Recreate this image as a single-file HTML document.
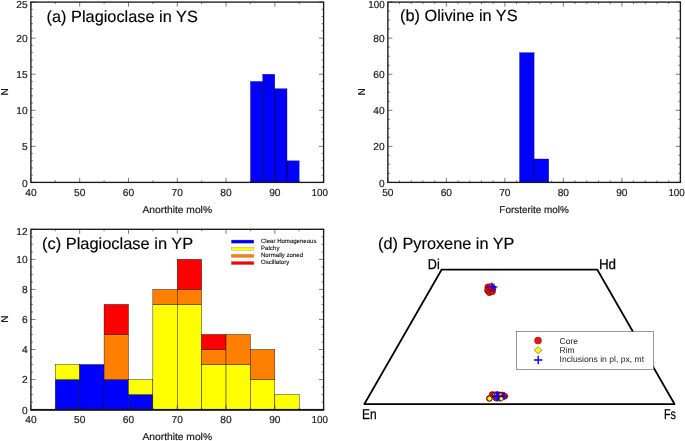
<!DOCTYPE html>
<html lang="en"><head><meta charset="utf-8"><title>Mineral compositions</title>
<style>html,body{margin:0;padding:0;background:#fff}body{width:685px;height:441px;overflow:hidden}svg{display:block}</style></head><body>
<svg width="685" height="441" viewBox="0 0 685 441" font-family="Liberation Sans, sans-serif" text-rendering="geometricPrecision">
<rect width="685" height="441" fill="#fff"/>
<g>
<rect x="250.43" y="81.43" width="12.20" height="100.97" fill="#0000ff" stroke="#000" stroke-width="0.22"/>
<rect x="262.62" y="74.22" width="12.20" height="108.18" fill="#0000ff" stroke="#000" stroke-width="0.22"/>
<rect x="274.82" y="88.64" width="12.20" height="93.76" fill="#0000ff" stroke="#000" stroke-width="0.22"/>
<rect x="287.01" y="160.76" width="12.20" height="21.64" fill="#0000ff" stroke="#000" stroke-width="0.22"/>
<path d="M262.62 182.40V81.43" stroke="#000018" stroke-width="0.55" fill="none"/>
<path d="M274.82 182.40V88.64" stroke="#000018" stroke-width="0.55" fill="none"/>
<path d="M287.01 182.40V160.76" stroke="#000018" stroke-width="0.55" fill="none"/>
<path d="M30.90 182.40v-4.6M30.90 2.10v4.6M55.29 182.40v-2.0M55.29 2.10v2.0M79.68 182.40v-4.6M79.68 2.10v4.6M104.08 182.40v-2.0M104.08 2.10v2.0M128.47 182.40v-4.6M128.47 2.10v4.6M152.86 182.40v-2.0M152.86 2.10v2.0M177.25 182.40v-4.6M177.25 2.10v4.6M201.64 182.40v-2.0M201.64 2.10v2.0M226.03 182.40v-4.6M226.03 2.10v4.6M250.43 182.40v-2.0M250.43 2.10v2.0M274.82 182.40v-4.6M274.82 2.10v4.6M299.21 182.40v-2.0M299.21 2.10v2.0M323.60 182.40v-4.6M323.60 2.10v4.6M30.90 182.40h4.6M323.60 182.40h-4.6M30.90 175.19h2.0M323.60 175.19h-2.0M30.90 167.98h2.0M323.60 167.98h-2.0M30.90 160.76h2.0M323.60 160.76h-2.0M30.90 153.55h2.0M323.60 153.55h-2.0M30.90 146.34h4.6M323.60 146.34h-4.6M30.90 139.13h2.0M323.60 139.13h-2.0M30.90 131.92h2.0M323.60 131.92h-2.0M30.90 124.70h2.0M323.60 124.70h-2.0M30.90 117.49h2.0M323.60 117.49h-2.0M30.90 110.28h4.6M323.60 110.28h-4.6M30.90 103.07h2.0M323.60 103.07h-2.0M30.90 95.86h2.0M323.60 95.86h-2.0M30.90 88.64h2.0M323.60 88.64h-2.0M30.90 81.43h2.0M323.60 81.43h-2.0M30.90 74.22h4.6M323.60 74.22h-4.6M30.90 67.01h2.0M323.60 67.01h-2.0M30.90 59.80h2.0M323.60 59.80h-2.0M30.90 52.58h2.0M323.60 52.58h-2.0M30.90 45.37h2.0M323.60 45.37h-2.0M30.90 38.16h4.6M323.60 38.16h-4.6M30.90 30.95h2.0M323.60 30.95h-2.0M30.90 23.74h2.0M323.60 23.74h-2.0M30.90 16.52h2.0M323.60 16.52h-2.0M30.90 9.31h2.0M323.60 9.31h-2.0M30.90 2.10h4.6M323.60 2.10h-4.6" stroke="#222" stroke-width="0.6" fill="none"/>
<rect x="30.90" y="2.10" width="292.70" height="180.30" fill="none" stroke="#1a1a1a" stroke-width="1.35"/>
<text x="30.90" y="196.00" font-size="10.2" text-anchor="middle" fill="#1a1a1a" stroke="#1a1a1a" stroke-width="0.2">40</text>
<text x="79.68" y="196.00" font-size="10.2" text-anchor="middle" fill="#1a1a1a" stroke="#1a1a1a" stroke-width="0.2">50</text>
<text x="128.47" y="196.00" font-size="10.2" text-anchor="middle" fill="#1a1a1a" stroke="#1a1a1a" stroke-width="0.2">60</text>
<text x="177.25" y="196.00" font-size="10.2" text-anchor="middle" fill="#1a1a1a" stroke="#1a1a1a" stroke-width="0.2">70</text>
<text x="226.03" y="196.00" font-size="10.2" text-anchor="middle" fill="#1a1a1a" stroke="#1a1a1a" stroke-width="0.2">80</text>
<text x="274.82" y="196.00" font-size="10.2" text-anchor="middle" fill="#1a1a1a" stroke="#1a1a1a" stroke-width="0.2">90</text>
<text x="319.80" y="196.00" font-size="10.2" text-anchor="middle" fill="#1a1a1a" textLength="16.4" lengthAdjust="spacingAndGlyphs" stroke="#1a1a1a" stroke-width="0.2">100</text>
<text x="27.70" y="186.70" font-size="10.2" text-anchor="end" fill="#1a1a1a" stroke="#1a1a1a" stroke-width="0.2">0</text>
<text x="27.70" y="150.04" font-size="10.2" text-anchor="end" fill="#1a1a1a" stroke="#1a1a1a" stroke-width="0.2">5</text>
<text x="27.70" y="113.98" font-size="10.2" text-anchor="end" fill="#1a1a1a" stroke="#1a1a1a" stroke-width="0.2">10</text>
<text x="27.70" y="77.92" font-size="10.2" text-anchor="end" fill="#1a1a1a" stroke="#1a1a1a" stroke-width="0.2">15</text>
<text x="27.70" y="41.86" font-size="10.2" text-anchor="end" fill="#1a1a1a" stroke="#1a1a1a" stroke-width="0.2">20</text>
<text x="27.70" y="8.20" font-size="10.2" text-anchor="end" fill="#1a1a1a" stroke="#1a1a1a" stroke-width="0.2">25</text>
<text x="177.25" y="212.80" font-size="9.9" text-anchor="middle" fill="#1a1a1a" textLength="69.5" lengthAdjust="spacingAndGlyphs" stroke="#1a1a1a" stroke-width="0.2">Anorthite mol%</text>
<text transform="translate(7.60 91.95) rotate(-90)" font-size="10" text-anchor="middle" fill="#1a1a1a" stroke="#1a1a1a" stroke-width="0.2">N</text>
<text x="46.60" y="22.40" font-size="16.3" text-anchor="start" fill="#000" textLength="151.2" lengthAdjust="spacingAndGlyphs" stroke="#000" stroke-width="0.15">(a) Plagioclase in YS</text>
</g>
<g>
<rect x="519.50" y="52.58" width="14.63" height="129.82" fill="#0000ff" stroke="#000" stroke-width="0.22"/>
<rect x="534.12" y="158.96" width="14.63" height="23.44" fill="#0000ff" stroke="#000" stroke-width="0.22"/>
<path d="M534.12 182.40V158.96" stroke="#000018" stroke-width="0.55" fill="none"/>
<path d="M387.85 182.40v-4.6M387.85 2.10v4.6M399.55 182.40v-2.0M399.55 2.10v2.0M411.25 182.40v-2.0M411.25 2.10v2.0M422.96 182.40v-2.0M422.96 2.10v2.0M434.66 182.40v-2.0M434.66 2.10v2.0M446.36 182.40v-4.6M446.36 2.10v4.6M458.06 182.40v-2.0M458.06 2.10v2.0M469.76 182.40v-2.0M469.76 2.10v2.0M481.47 182.40v-2.0M481.47 2.10v2.0M493.17 182.40v-2.0M493.17 2.10v2.0M504.87 182.40v-4.6M504.87 2.10v4.6M516.57 182.40v-2.0M516.57 2.10v2.0M528.27 182.40v-2.0M528.27 2.10v2.0M539.98 182.40v-2.0M539.98 2.10v2.0M551.68 182.40v-2.0M551.68 2.10v2.0M563.38 182.40v-4.6M563.38 2.10v4.6M575.08 182.40v-2.0M575.08 2.10v2.0M586.78 182.40v-2.0M586.78 2.10v2.0M598.49 182.40v-2.0M598.49 2.10v2.0M610.19 182.40v-2.0M610.19 2.10v2.0M621.89 182.40v-4.6M621.89 2.10v4.6M633.59 182.40v-2.0M633.59 2.10v2.0M645.29 182.40v-2.0M645.29 2.10v2.0M657.00 182.40v-2.0M657.00 2.10v2.0M668.70 182.40v-2.0M668.70 2.10v2.0M680.40 182.40v-4.6M680.40 2.10v4.6M387.85 182.40h4.6M680.40 182.40h-4.6M387.85 173.38h2.0M680.40 173.38h-2.0M387.85 164.37h2.0M680.40 164.37h-2.0M387.85 155.36h2.0M680.40 155.36h-2.0M387.85 146.34h4.6M680.40 146.34h-4.6M387.85 137.32h2.0M680.40 137.32h-2.0M387.85 128.31h2.0M680.40 128.31h-2.0M387.85 119.30h2.0M680.40 119.30h-2.0M387.85 110.28h4.6M680.40 110.28h-4.6M387.85 101.27h2.0M680.40 101.27h-2.0M387.85 92.25h2.0M680.40 92.25h-2.0M387.85 83.23h2.0M680.40 83.23h-2.0M387.85 74.22h4.6M680.40 74.22h-4.6M387.85 65.20h2.0M680.40 65.20h-2.0M387.85 56.19h2.0M680.40 56.19h-2.0M387.85 47.17h2.0M680.40 47.17h-2.0M387.85 38.16h4.6M680.40 38.16h-4.6M387.85 29.14h2.0M680.40 29.14h-2.0M387.85 20.13h2.0M680.40 20.13h-2.0M387.85 11.11h2.0M680.40 11.11h-2.0M387.85 2.10h4.6M680.40 2.10h-4.6" stroke="#222" stroke-width="0.6" fill="none"/>
<rect x="387.85" y="2.10" width="292.55" height="180.30" fill="none" stroke="#1a1a1a" stroke-width="1.35"/>
<text x="387.85" y="196.00" font-size="10.2" text-anchor="middle" fill="#1a1a1a" stroke="#1a1a1a" stroke-width="0.2">50</text>
<text x="446.36" y="196.00" font-size="10.2" text-anchor="middle" fill="#1a1a1a" stroke="#1a1a1a" stroke-width="0.2">60</text>
<text x="504.87" y="196.00" font-size="10.2" text-anchor="middle" fill="#1a1a1a" stroke="#1a1a1a" stroke-width="0.2">70</text>
<text x="563.38" y="196.00" font-size="10.2" text-anchor="middle" fill="#1a1a1a" stroke="#1a1a1a" stroke-width="0.2">80</text>
<text x="621.89" y="196.00" font-size="10.2" text-anchor="middle" fill="#1a1a1a" stroke="#1a1a1a" stroke-width="0.2">90</text>
<text x="676.60" y="196.00" font-size="10.2" text-anchor="middle" fill="#1a1a1a" textLength="16.4" lengthAdjust="spacingAndGlyphs" stroke="#1a1a1a" stroke-width="0.2">100</text>
<text x="384.65" y="186.70" font-size="10.2" text-anchor="end" fill="#1a1a1a" stroke="#1a1a1a" stroke-width="0.2">0</text>
<text x="384.65" y="150.04" font-size="10.2" text-anchor="end" fill="#1a1a1a" stroke="#1a1a1a" stroke-width="0.2">20</text>
<text x="384.65" y="113.98" font-size="10.2" text-anchor="end" fill="#1a1a1a" stroke="#1a1a1a" stroke-width="0.2">40</text>
<text x="384.65" y="77.92" font-size="10.2" text-anchor="end" fill="#1a1a1a" stroke="#1a1a1a" stroke-width="0.2">60</text>
<text x="384.65" y="41.86" font-size="10.2" text-anchor="end" fill="#1a1a1a" stroke="#1a1a1a" stroke-width="0.2">80</text>
<text x="384.65" y="8.20" font-size="10.2" text-anchor="end" fill="#1a1a1a" textLength="16.4" lengthAdjust="spacingAndGlyphs" stroke="#1a1a1a" stroke-width="0.2">100</text>
<text x="534.12" y="212.80" font-size="9.9" text-anchor="middle" fill="#1a1a1a" textLength="69.5" lengthAdjust="spacingAndGlyphs" stroke="#1a1a1a" stroke-width="0.2">Forsterite mol%</text>
<text transform="translate(364.55 91.95) rotate(-90)" font-size="10" text-anchor="middle" fill="#1a1a1a" stroke="#1a1a1a" stroke-width="0.2">N</text>
<text x="400.10" y="20.50" font-size="16.3" text-anchor="start" fill="#000" textLength="117.5" lengthAdjust="spacingAndGlyphs" stroke="#000" stroke-width="0.15">(b) Olivine in YS</text>
</g>
<g>
<rect x="55.29" y="379.55" width="24.39" height="30.05" fill="#0000ff" stroke="#000" stroke-width="0.4"/>
<rect x="55.29" y="364.53" width="24.39" height="15.02" fill="#ffff00" stroke="#000" stroke-width="0.4"/>
<rect x="79.68" y="364.53" width="24.39" height="45.07" fill="#0000ff" stroke="#000" stroke-width="0.4"/>
<rect x="104.08" y="379.55" width="24.39" height="30.05" fill="#0000ff" stroke="#000" stroke-width="0.4"/>
<rect x="104.08" y="334.48" width="24.39" height="45.07" fill="#ff8000" stroke="#000" stroke-width="0.4"/>
<rect x="104.08" y="304.43" width="24.39" height="30.05" fill="#ff0000" stroke="#000" stroke-width="0.4"/>
<rect x="128.47" y="394.58" width="24.39" height="15.02" fill="#0000ff" stroke="#000" stroke-width="0.4"/>
<rect x="128.47" y="379.55" width="24.39" height="15.03" fill="#ffff00" stroke="#000" stroke-width="0.4"/>
<rect x="152.86" y="304.43" width="24.39" height="105.18" fill="#ffff00" stroke="#000" stroke-width="0.4"/>
<rect x="152.86" y="289.40" width="24.39" height="15.02" fill="#ff8000" stroke="#000" stroke-width="0.4"/>
<rect x="177.25" y="304.43" width="24.39" height="105.18" fill="#ffff00" stroke="#000" stroke-width="0.4"/>
<rect x="177.25" y="289.40" width="24.39" height="15.02" fill="#ff8000" stroke="#000" stroke-width="0.4"/>
<rect x="177.25" y="259.35" width="24.39" height="30.05" fill="#ff0000" stroke="#000" stroke-width="0.4"/>
<rect x="201.64" y="364.53" width="24.39" height="45.07" fill="#ffff00" stroke="#000" stroke-width="0.4"/>
<rect x="201.64" y="349.50" width="24.39" height="15.03" fill="#ff8000" stroke="#000" stroke-width="0.4"/>
<rect x="201.64" y="334.48" width="24.39" height="15.02" fill="#ff0000" stroke="#000" stroke-width="0.4"/>
<rect x="226.03" y="364.53" width="24.39" height="45.07" fill="#ffff00" stroke="#000" stroke-width="0.4"/>
<rect x="226.03" y="334.48" width="24.39" height="30.05" fill="#ff8000" stroke="#000" stroke-width="0.4"/>
<rect x="250.43" y="379.55" width="24.39" height="30.05" fill="#ffff00" stroke="#000" stroke-width="0.4"/>
<rect x="250.43" y="349.50" width="24.39" height="30.05" fill="#ff8000" stroke="#000" stroke-width="0.4"/>
<rect x="274.82" y="394.58" width="24.39" height="15.02" fill="#ffff00" stroke="#000" stroke-width="0.4"/>
<path d="M30.90 409.60v-4.6M30.90 229.30v4.6M55.29 409.60v-2.0M55.29 229.30v2.0M79.68 409.60v-4.6M79.68 229.30v4.6M104.08 409.60v-2.0M104.08 229.30v2.0M128.47 409.60v-4.6M128.47 229.30v4.6M152.86 409.60v-2.0M152.86 229.30v2.0M177.25 409.60v-4.6M177.25 229.30v4.6M201.64 409.60v-2.0M201.64 229.30v2.0M226.03 409.60v-4.6M226.03 229.30v4.6M250.43 409.60v-2.0M250.43 229.30v2.0M274.82 409.60v-4.6M274.82 229.30v4.6M299.21 409.60v-2.0M299.21 229.30v2.0M323.60 409.60v-4.6M323.60 229.30v4.6M30.90 409.60h4.6M323.60 409.60h-4.6M30.90 402.09h2.0M323.60 402.09h-2.0M30.90 394.58h2.0M323.60 394.58h-2.0M30.90 387.06h2.0M323.60 387.06h-2.0M30.90 379.55h4.6M323.60 379.55h-4.6M30.90 372.04h2.0M323.60 372.04h-2.0M30.90 364.53h2.0M323.60 364.53h-2.0M30.90 357.01h2.0M323.60 357.01h-2.0M30.90 349.50h4.6M323.60 349.50h-4.6M30.90 341.99h2.0M323.60 341.99h-2.0M30.90 334.48h2.0M323.60 334.48h-2.0M30.90 326.96h2.0M323.60 326.96h-2.0M30.90 319.45h4.6M323.60 319.45h-4.6M30.90 311.94h2.0M323.60 311.94h-2.0M30.90 304.43h2.0M323.60 304.43h-2.0M30.90 296.91h2.0M323.60 296.91h-2.0M30.90 289.40h4.6M323.60 289.40h-4.6M30.90 281.89h2.0M323.60 281.89h-2.0M30.90 274.38h2.0M323.60 274.38h-2.0M30.90 266.86h2.0M323.60 266.86h-2.0M30.90 259.35h4.6M323.60 259.35h-4.6M30.90 251.84h2.0M323.60 251.84h-2.0M30.90 244.33h2.0M323.60 244.33h-2.0M30.90 236.81h2.0M323.60 236.81h-2.0M30.90 229.30h4.6M323.60 229.30h-4.6" stroke="#222" stroke-width="0.6" fill="none"/>
<rect x="30.90" y="229.30" width="292.70" height="180.30" fill="none" stroke="#1a1a1a" stroke-width="1.35"/>
<text x="30.90" y="423.20" font-size="10.2" text-anchor="middle" fill="#1a1a1a" stroke="#1a1a1a" stroke-width="0.2">40</text>
<text x="79.68" y="423.20" font-size="10.2" text-anchor="middle" fill="#1a1a1a" stroke="#1a1a1a" stroke-width="0.2">50</text>
<text x="128.47" y="423.20" font-size="10.2" text-anchor="middle" fill="#1a1a1a" stroke="#1a1a1a" stroke-width="0.2">60</text>
<text x="177.25" y="423.20" font-size="10.2" text-anchor="middle" fill="#1a1a1a" stroke="#1a1a1a" stroke-width="0.2">70</text>
<text x="226.03" y="423.20" font-size="10.2" text-anchor="middle" fill="#1a1a1a" stroke="#1a1a1a" stroke-width="0.2">80</text>
<text x="274.82" y="423.20" font-size="10.2" text-anchor="middle" fill="#1a1a1a" stroke="#1a1a1a" stroke-width="0.2">90</text>
<text x="319.80" y="423.20" font-size="10.2" text-anchor="middle" fill="#1a1a1a" textLength="16.4" lengthAdjust="spacingAndGlyphs" stroke="#1a1a1a" stroke-width="0.2">100</text>
<text x="27.70" y="413.90" font-size="10.2" text-anchor="end" fill="#1a1a1a" stroke="#1a1a1a" stroke-width="0.2">0</text>
<text x="27.70" y="383.25" font-size="10.2" text-anchor="end" fill="#1a1a1a" stroke="#1a1a1a" stroke-width="0.2">2</text>
<text x="27.70" y="353.20" font-size="10.2" text-anchor="end" fill="#1a1a1a" stroke="#1a1a1a" stroke-width="0.2">4</text>
<text x="27.70" y="323.15" font-size="10.2" text-anchor="end" fill="#1a1a1a" stroke="#1a1a1a" stroke-width="0.2">6</text>
<text x="27.70" y="293.10" font-size="10.2" text-anchor="end" fill="#1a1a1a" stroke="#1a1a1a" stroke-width="0.2">8</text>
<text x="27.70" y="263.05" font-size="10.2" text-anchor="end" fill="#1a1a1a" stroke="#1a1a1a" stroke-width="0.2">10</text>
<text x="27.70" y="235.40" font-size="10.2" text-anchor="end" fill="#1a1a1a" stroke="#1a1a1a" stroke-width="0.2">12</text>
<text x="177.25" y="440.00" font-size="9.9" text-anchor="middle" fill="#1a1a1a" textLength="69.5" lengthAdjust="spacingAndGlyphs" stroke="#1a1a1a" stroke-width="0.2">Anorthite mol%</text>
<text transform="translate(7.60 319.15) rotate(-90)" font-size="10" text-anchor="middle" fill="#1a1a1a" stroke="#1a1a1a" stroke-width="0.2">N</text>
<path d="M30.30 409.80H324.20" stroke="#111" stroke-width="1.7" fill="none"/>
<text x="42.00" y="249.40" font-size="16.3" text-anchor="start" fill="#000" textLength="151.2" lengthAdjust="spacingAndGlyphs" stroke="#000" stroke-width="0.15">(c) Plagioclase in YP</text>
<rect x="231.3" y="240.00" width="22.6" height="3.2" fill="#0000ff" stroke="#888" stroke-width="0.3"/>
<text x="261.00" y="243.00" font-size="6.05" text-anchor="start" fill="#111" stroke="#111" stroke-width="0.12">Clear Homogeneous</text>
<rect x="231.3" y="247.15" width="22.6" height="3.2" fill="#ffff00" stroke="#888" stroke-width="0.3"/>
<text x="261.00" y="250.00" font-size="6.05" text-anchor="start" fill="#111" stroke="#111" stroke-width="0.12">Patchy</text>
<rect x="231.3" y="254.30" width="22.6" height="3.2" fill="#ff8000" stroke="#888" stroke-width="0.3"/>
<text x="261.00" y="257.00" font-size="6.05" text-anchor="start" fill="#111" stroke="#111" stroke-width="0.12">Normally zoned</text>
<rect x="231.3" y="261.45" width="22.6" height="3.2" fill="#ff0000" stroke="#888" stroke-width="0.3"/>
<text x="261.00" y="264.00" font-size="6.05" text-anchor="start" fill="#111" stroke="#111" stroke-width="0.12">Oscillatory</text>
</g>
<g>
<text x="378.00" y="249.40" font-size="16.3" text-anchor="start" fill="#000" textLength="136.5" lengthAdjust="spacingAndGlyphs" stroke="#000" stroke-width="0.15">(d) Pyroxene in YP</text>
<path d="M364.4 404.05L441.7 269.55L597.2 269.55L674.5 404.05Z" fill="none" stroke="#000" stroke-width="1.75" stroke-linejoin="round"/>
<text x="427.80" y="269.30" font-size="14.3" text-anchor="start" fill="#000" textLength="11.9" lengthAdjust="spacingAndGlyphs" stroke="#000" stroke-width="0.25">Di</text>
<text x="598.90" y="268.60" font-size="14.3" text-anchor="start" fill="#000" textLength="17.2" lengthAdjust="spacingAndGlyphs" stroke="#000" stroke-width="0.25">Hd</text>
<text x="362.00" y="418.60" font-size="14.3" text-anchor="start" fill="#000" textLength="14.7" lengthAdjust="spacingAndGlyphs" stroke="#000" stroke-width="0.25">En</text>
<text x="663.90" y="419.30" font-size="14.3" text-anchor="start" fill="#000" textLength="12.0" lengthAdjust="spacingAndGlyphs" stroke="#000" stroke-width="0.25">Fs</text>
<circle cx="487.9" cy="287.0" r="3.1" fill="#ff0000" stroke="#000" stroke-width="0.5"/>
<circle cx="487.6" cy="290.4" r="3.1" fill="#ff0000" stroke="#000" stroke-width="0.5"/>
<circle cx="489.4" cy="292.6" r="3.1" fill="#ff0000" stroke="#000" stroke-width="0.5"/>
<circle cx="492.4" cy="291.6" r="3.1" fill="#ff0000" stroke="#000" stroke-width="0.5"/>
<circle cx="492.8" cy="288.4" r="3.1" fill="#ff0000" stroke="#000" stroke-width="0.5"/>
<circle cx="490.6" cy="286.6" r="3.1" fill="#ff0000" stroke="#000" stroke-width="0.5"/>
<path d="M487.7 286.8h8.6M492.0 282.5v8.6" stroke="#0000ff" stroke-width="1.2" fill="none"/>
<path d="M490.4 287.0h7.2M494.0 283.4v7.2" stroke="#0000ff" stroke-width="1.1" fill="none"/>
<circle cx="489.4" cy="398.4" r="3.0" fill="#ff0000" stroke="#000" stroke-width="0.5"/>
<circle cx="492.2" cy="394.6" r="3.0" fill="#ff0000" stroke="#000" stroke-width="0.5"/>
<circle cx="495.2" cy="394.8" r="3.0" fill="#ff0000" stroke="#000" stroke-width="0.5"/>
<circle cx="499.0" cy="394.8" r="3.0" fill="#ff0000" stroke="#000" stroke-width="0.5"/>
<circle cx="502.4" cy="395.0" r="3.0" fill="#ff0000" stroke="#000" stroke-width="0.5"/>
<circle cx="504.7" cy="396.2" r="3.0" fill="#ff0000" stroke="#000" stroke-width="0.5"/>
<circle cx="496.0" cy="398.0" r="3.0" fill="#ff0000" stroke="#000" stroke-width="0.5"/>
<circle cx="500.2" cy="398.2" r="3.0" fill="#ff0000" stroke="#000" stroke-width="0.5"/>
<path d="M486.8 398.6L489.6 395.8L492.40000000000003 398.6L489.6 401.40000000000003Z" fill="#ffff00" stroke="#000" stroke-width="0.5"/>
<path d="M498.7 398.8L501.2 396.3L503.7 398.8L501.2 401.3Z" fill="#ffff00" stroke="#000" stroke-width="0.5"/>
<path d="M492.6 394.8L494.6 392.8L496.6 394.8L494.6 396.8Z" fill="#ffff00" stroke="#000" stroke-width="0.5"/>
<path d="M498.0 394.8L500.0 392.8L502.0 394.8L500.0 396.8Z" fill="#ffff00" stroke="#000" stroke-width="0.5"/>
<path d="M492.0 396.3h10.4M497.2 391.1v10.4" stroke="#0000ff" stroke-width="1.4" fill="none"/>
<path d="M494.6 396.4h8.4M498.8 392.2v8.4" stroke="#0000ff" stroke-width="1.2" fill="none"/>
<path d="M500.0 396.3h8.0M504.0 392.3v8.0" stroke="#0000ff" stroke-width="1.3" fill="none"/>
<path d="M491.40000000000003 396.2h6.8M494.8 392.8v6.8" stroke="#0000ff" stroke-width="1.1" fill="none"/>
<rect x="516.6" y="331.6" width="136.9" height="37.7" fill="#fff" stroke="#555" stroke-width="0.6"/>
<circle cx="538.0" cy="340.6" r="3.5" fill="#e01818" stroke="#a00" stroke-width="0.5"/>
<path d="M534.3 350.2L538.1 346.7L541.9 350.2L538.1 353.7Z" fill="#ffff00" stroke="#333" stroke-width="0.5"/>
<path d="M534.0 360.0h8.4M538.2 355.8v8.4" stroke="#0000ff" stroke-width="1.4" fill="none"/>
<text x="559.60" y="343.90" font-size="8.5" text-anchor="start" fill="#222">Core</text>
<text x="559.60" y="352.90" font-size="8.5" text-anchor="start" fill="#222">Rim</text>
<text x="559.60" y="362.20" font-size="8.5" text-anchor="start" fill="#222" textLength="84.5" lengthAdjust="spacingAndGlyphs">Inclusions in pl, px, mt</text>
</g>
</svg></body></html>
